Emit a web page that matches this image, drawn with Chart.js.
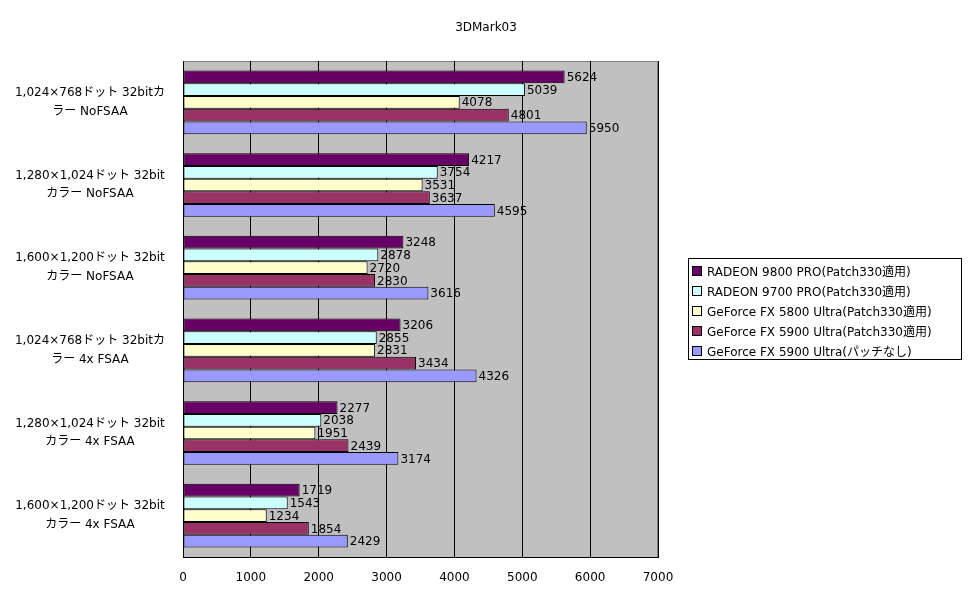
<!DOCTYPE html>
<html>
<head>
<meta charset="utf-8">
<script src="https://cdn.jsdelivr.net/npm/chart.js@4/dist/chart.umd.min.js"></script>
<style>
  body { margin: 0; background: #fff; font-family: "DejaVu Sans", "Noto Sans CJK JP", sans-serif; }
  #wrap { position: relative; width: 972px; height: 604px; }
  #title { position: absolute; left: 0; width: 972px; top: 20px; text-align: center; font-size: 12px; color: #000; }
  #legend { position: absolute; left: 688px; top: 258px; width: 274px; height: 102px; border: 1px solid #000; box-sizing: border-box; padding: 3px 0 0 2px; font-size: 12px; color: #000; }
  #legend div { height: 20px; line-height: 20px; white-space: nowrap; }
  #legend span { display: inline-block; width: 8px; height: 8px; border: 1px solid #000; margin: 0 5px 0 1px; }
</style>
</head>
<body>
<div id="wrap">
  <canvas id="c" width="972" height="604"></canvas>
  <div id="title">3DMark03</div>
  <div id="legend"></div>
</div>
<script>
// category labels (two lines each, as wrapped in the original)
const categories = [
  ["1,024×768ドット 32bitカ", "ラー NoFSAA"],
  ["1,280×1,024ドット 32bit", "カラー NoFSAA"],
  ["1,600×1,200ドット 32bit", "カラー NoFSAA"],
  ["1,024×768ドット 32bitカ", "ラー 4x FSAA"],
  ["1,280×1,024ドット 32bit", "カラー 4x FSAA"],
  ["1,600×1,200ドット 32bit", "カラー 4x FSAA"]
];

const seriesNames = [
  "RADEON 9800 PRO(Patch330適用)",
  "RADEON 9700 PRO(Patch330適用)",
  "GeForce FX 5800 Ultra(Patch330適用)",
  "GeForce FX 5900 Ultra(Patch330適用)",
  "GeForce FX 5900 Ultra(パッチなし)"
];

const radeon9800 = [5624, 4217, 3248, 3206, 2277, 1719];
const radeon9700 = [5039, 3754, 2878, 2855, 2038, 1543];
const fx5800     = [4078, 3531, 2720, 2831, 1951, 1234];
const fx5900     = [4801, 3637, 2830, 3434, 2439, 1854];
const fx5900raw  = [5950, 4595, 3616, 4326, 3174, 2429];

const colors = ["#660066", "#CCFFFF", "#FFFFCC", "#993366", "#9999FF"];
const allSeries = [radeon9800, radeon9700, fx5800, fx5900, fx5900raw];

const FONT = { family: '"DejaVu Sans", "Noto Sans CJK JP", sans-serif', size: 12 };

// grey plot background with thin grey frame, like the old spreadsheet look
const plotBg = {
  id: "plotBg",
  beforeDraw(chart) {
    const { ctx, chartArea: a } = chart;
    ctx.save();
    ctx.fillStyle = "#C0C0C0";
    ctx.fillRect(a.left, a.top, a.right - a.left, a.bottom - a.top);
    ctx.strokeStyle = "#808080";
    ctx.lineWidth = 1;
    ctx.strokeRect(a.left + 0.5, a.top + 0.5, a.right - a.left - 1, a.bottom - a.top);
    ctx.restore();
  }
};

// value written just past the end of each bar
const valueLabels = {
  id: "valueLabels",
  afterDatasetsDraw(chart) {
    const ctx = chart.ctx;
    ctx.save();
    ctx.font = `${FONT.size}px ${FONT.family}`;
    ctx.fillStyle = "#000";
    ctx.textBaseline = "middle";
    ctx.textAlign = "left";
    chart.data.datasets.forEach((ds, i) => {
      chart.getDatasetMeta(i).data.forEach((bar, j) => {
        ctx.fillText(String(ds.data[j]), bar.x + 2, bar.y + 1);
      });
    });
    ctx.restore();
  }
};

new Chart(document.getElementById("c"), {
  type: "bar",
  data: {
    labels: categories,
    datasets: allSeries.map((d, i) => ({
      label: seriesNames[i],
      data: d,
      backgroundColor: colors[i],
      borderColor: "#000",
      borderWidth: 1,
      borderSkipped: false,
      categoryPercentage: 0.77,
      barPercentage: 1.0
    }))
  },
  options: {
    indexAxis: "y",
    responsive: false,
    animation: false,
    layout: { padding: { top: 61, right: 314, left: 0, bottom: 0 } },
    plugins: {
      legend: { display: false },
      title: { display: false },
      tooltip: { enabled: false }
    },
    scales: {
      x: {
        min: 0, max: 7000,
        ticks: { stepSize: 1000, color: "#000", font: FONT, padding: 14, callback: v => String(v) },
        grid: { color: "#000", drawTicks: false },
        border: { color: "#000" },
        afterFit: s => { s.height = 47; }
      },
      y: {
        ticks: { color: "#000", font: { ...FONT, lineHeight: 1.55 }, crossAlign: "center", padding: 10 },
        grid: { display: false },
        border: { color: "#000" },
        afterFit: s => { s.width = 183; }
      }
    }
  },
  plugins: [plotBg, valueLabels]
});

// legend box
const leg = document.getElementById("legend");
seriesNames.forEach((n, i) => {
  const row = document.createElement("div");
  const sw = document.createElement("span");
  sw.style.background = colors[i];
  row.appendChild(sw);
  row.appendChild(document.createTextNode(n));
  leg.appendChild(row);
});
</script>
</body>
</html>
